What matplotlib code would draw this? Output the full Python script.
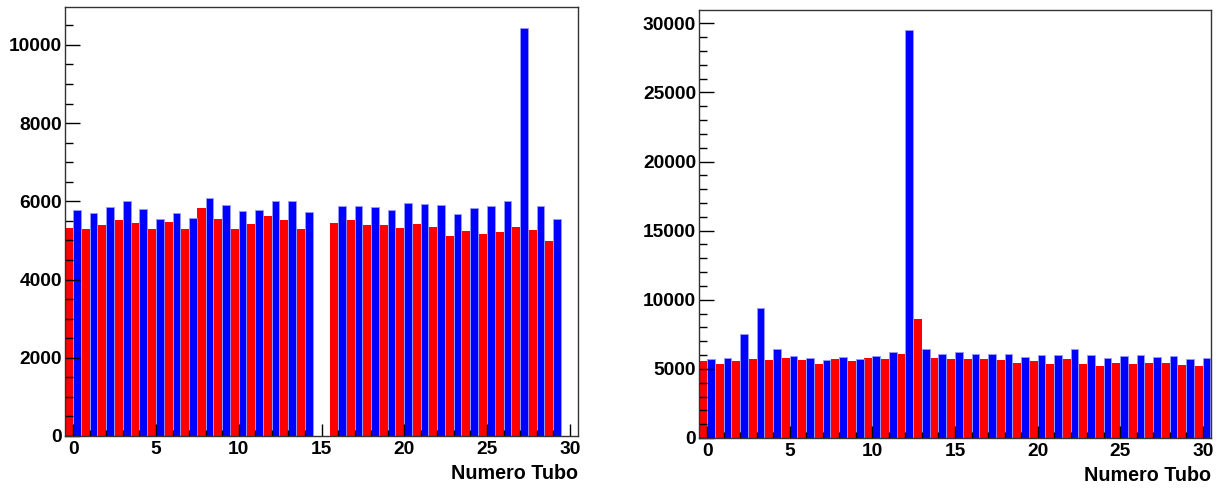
import numpy as np
import matplotlib
matplotlib.use("Agg")
import matplotlib.pyplot as plt
from matplotlib.ticker import MultipleLocator

# === DADOS ===
tubos_esq = np.arange(30)
vermelho_esq = [5325, 5291, 5385, 5530, 5436, 5291, 5470, 5291, 5821, 5556,
                5291, 5410, 5615, 5530, 5291, 0, 5436, 5530, 5385, 5385,
                5325, 5410, 5350, 5120, 5239, 5154, 5205, 5350, 5265, 4974]
azul_esq = [5786, 5701, 5846, 6017, 5812, 5556, 5701, 5581, 6077, 5906,
            5761, 5786, 6017, 6017, 5726, 0, 5880, 5880, 5846, 5786,
            5966, 5940, 5906, 5675, 5821, 5880, 6017, 10440, 5880, 5556]

tubos_dir = np.arange(31)
vermelho_dir = [5553, 5360, 5553, 5698, 5626, 5795, 5626, 5360, 5698, 5553,
                5795, 5698, 6109, 8597, 5795, 5698, 5698, 5698, 5626, 5457,
                5553, 5360, 5698, 5360, 5215, 5457, 5360, 5457, 5457, 5288, 5215]
azul_dir = [5698, 5795, 7534, 9418, 6447, 5940, 5795, 5626, 5867, 5698,
            5940, 6205, 29480, 6447, 6109, 6205, 6109, 6109, 6109, 5867,
            6036, 6036, 6447, 6036, 5795, 5940, 6036, 5867, 5940, 5698, 5795]

plt.rcParams['font.family'] = ['Liberation Sans', 'DejaVu Sans']
plt.rcParams['font.weight'] = 'bold'

fig = plt.figure(figsize=(12.21, 4.88), dpi=100)
ax1 = fig.add_axes([65 / 1221, 52 / 488, 513 / 1221, 429 / 488])
ax2 = fig.add_axes([699 / 1221, 50 / 488, 512 / 1221, 428 / 488])


def desenhar(ax, tubos, verm, azul, ymax, maior, menor, ylabel_y):
    ax.bar(tubos - 0.5, verm, width=0.5, align='edge', color='#ff0000',
           linewidth=0)
    ax.bar(tubos, azul, width=0.46, align='edge', color='#0000ff',
           edgecolor='#9a9aff', linewidth=0.6)
    ax.set_xlim(-0.5, 30.5)
    ax.set_ylim(0, ymax)
    ax.xaxis.set_major_locator(MultipleLocator(5))
    ax.xaxis.set_minor_locator(MultipleLocator(1))
    ax.yaxis.set_major_locator(MultipleLocator(maior))
    ax.yaxis.set_minor_locator(MultipleLocator(menor))
    ax.tick_params(axis='both', which='both', direction='in', top=False,
                   right=False, colors='black', labelsize=13.8)
    ax.tick_params(axis='y', which='major', length=10.8, width=1, pad=2)
    ax.tick_params(axis='y', which='minor', length=5.8, width=1)
    ax.tick_params(axis='x', which='major', length=8.6, width=1, pad=3.5)
    ax.tick_params(axis='x', which='minor', length=4.3, width=1)
    for lab in ax.get_xticklabels() + ax.get_yticklabels():
        lab.set_fontweight('bold')
    for sp in ax.spines.values():
        sp.set_color('#333333')
        sp.set_linewidth(1)
    ax.text(1.0, ylabel_y, 'Numero Tubo', transform=ax.transAxes,
            ha='right', va='center', fontsize=14.2, fontweight='bold')


desenhar(ax1, tubos_esq, vermelho_esq, azul_esq, 10970, 2000, 500, -0.088)
desenhar(ax2, tubos_dir, vermelho_dir, azul_dir, 30960, 5000, 1000, -0.088)

fig.savefig('out.png', dpi=100)
